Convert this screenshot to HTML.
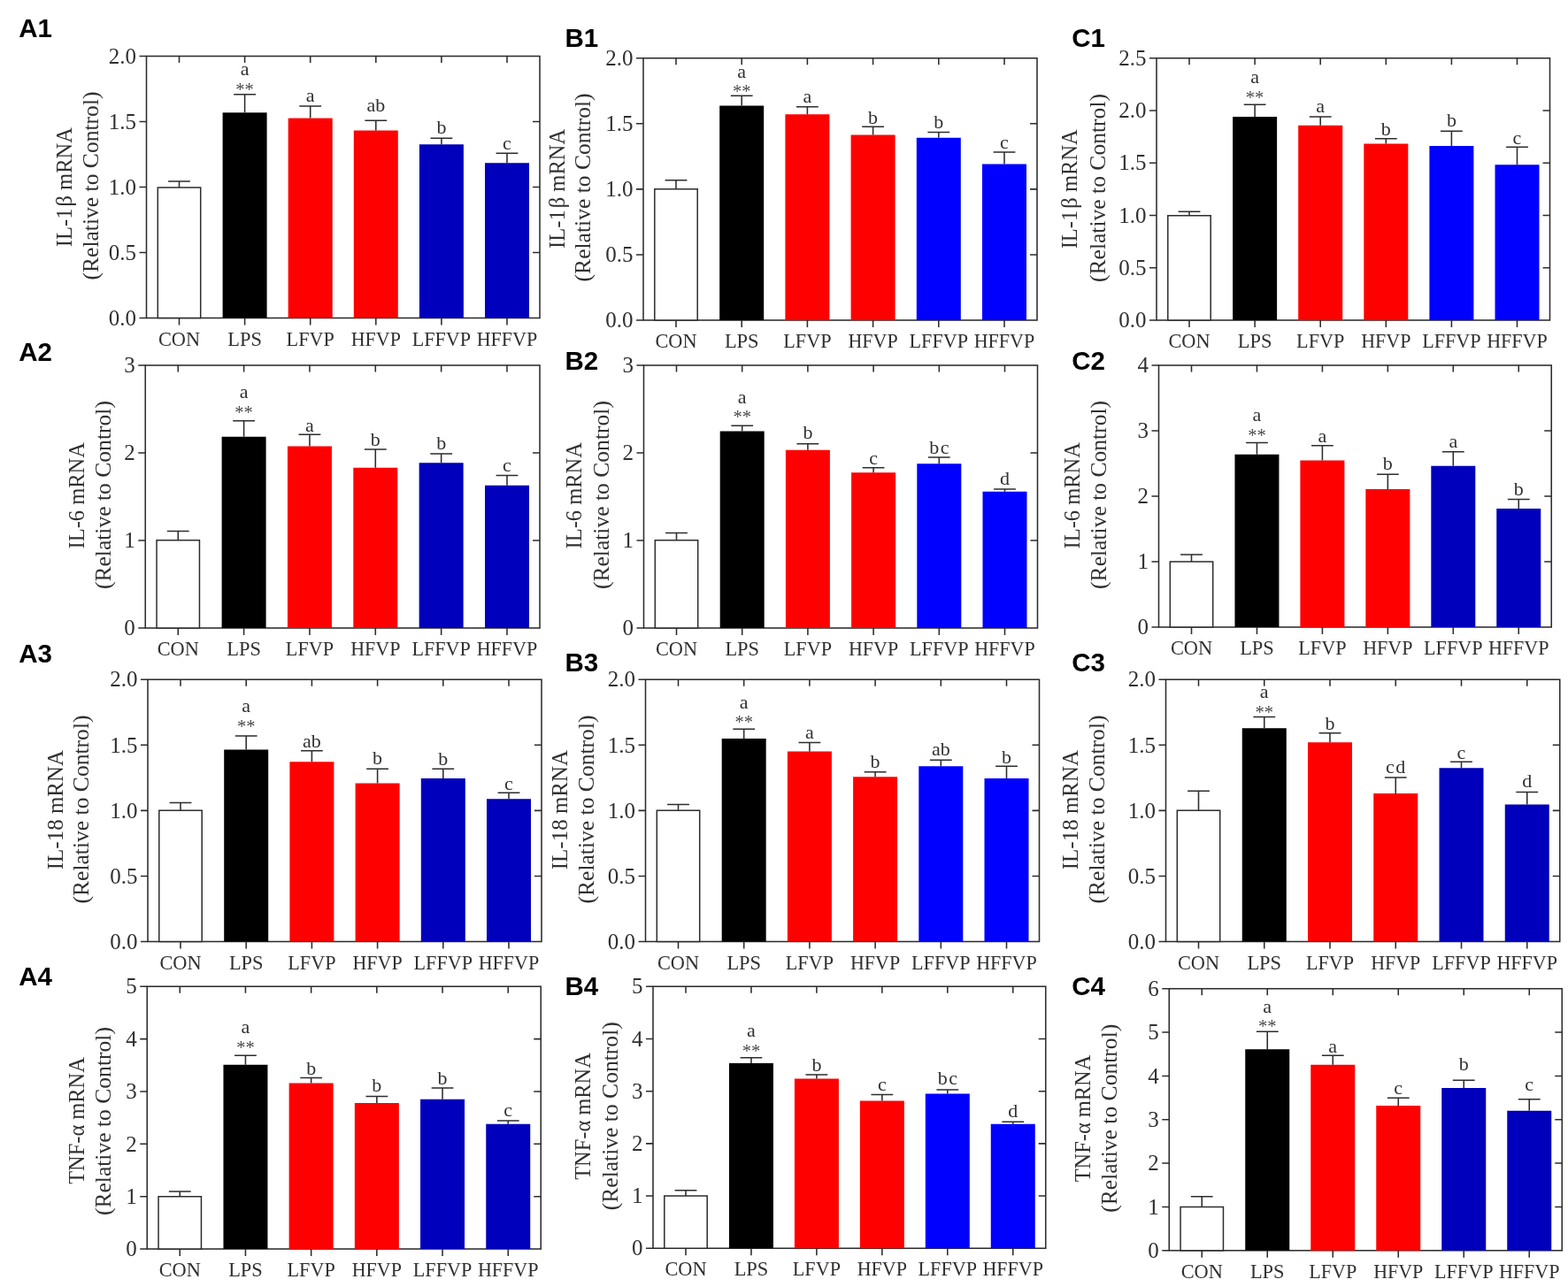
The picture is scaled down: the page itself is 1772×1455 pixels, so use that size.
<!DOCTYPE html>
<html><head><meta charset="utf-8"><title>Figure</title><style>
html,body{margin:0;padding:0;background:#fff;}
svg{display:block;}
text{font-family:"Liberation Serif","Times New Roman",serif;fill:#303030;}
.pl{font-family:"Liberation Sans",Arial,sans-serif;font-weight:700;font-size:29.5px;fill:#000;}
.ax{fill:none;stroke:#2c2c2c;stroke-width:1.55;}
.ln{fill:none;stroke:#2c2c2c;stroke-width:1.55;}
.cb{stroke:#2c2c2c;stroke-width:1.5;}
.tk{font-size:25px;text-anchor:end;}
.xl{font-size:24px;text-anchor:middle;}
.lt{font-size:22px;text-anchor:middle;}
.st{font-size:20.5px;text-anchor:middle;fill:#4a4a4a;}
.yl{font-size:25px;text-anchor:middle;}
</style></head>
<body><svg width="1772" height="1455" viewBox="0 0 1772 1455">
<rect width="1772" height="1455" fill="#fff"/>
<g><text class="pl" x="21.2" y="42.3">A1</text><rect x="165.5" y="63.5" width="444.5" height="296" class="ax"/><text class="tk" x="154" y="367.7">0.0</text><text class="tk" x="154" y="293.7">0.5</text><text class="tk" x="154" y="219.7">1.0</text><text class="tk" x="154" y="145.7">1.5</text><text class="tk" x="154" y="71.7">2.0</text><rect x="178.3" y="212" width="48.4" height="147.5" fill="#fff" class="cb"/><text class="xl" x="202.5" y="390.7" textLength="47.2" lengthAdjust="spacingAndGlyphs">CON</text><rect x="251.6" y="127.3" width="50" height="232.2" fill="#000"/><text class="lt" x="276.6" y="84.9">a</text><text class="st" x="276.6" y="108.1">**</text><text class="xl" x="276.6" y="390.7" textLength="38.6" lengthAdjust="spacingAndGlyphs">LPS</text><rect x="325.7" y="133.6" width="50" height="225.9" fill="#ff0000"/><text class="lt" x="350.7" y="115.3">a</text><text class="xl" x="350.7" y="390.7" textLength="54.2" lengthAdjust="spacingAndGlyphs">LFVP</text><rect x="399.8" y="147.5" width="50" height="212" fill="#ff0000"/><text class="lt" x="424.8" y="126">ab</text><text class="xl" x="424.8" y="390.7" textLength="56.2" lengthAdjust="spacingAndGlyphs">HFVP</text><rect x="473.9" y="163.25" width="50" height="196.25" fill="#0000bc"/><text class="lt" x="498.9" y="151.25">b</text><text class="xl" x="498.9" y="390.7" textLength="66.5" lengthAdjust="spacingAndGlyphs">LFFVP</text><rect x="548" y="184.25" width="50" height="175.25" fill="#0000bc"/><text class="lt" x="573" y="168.75">c</text><text class="xl" x="573" y="390.7" textLength="68.7" lengthAdjust="spacingAndGlyphs">HFFVP</text><path class="ln" d="M157.5 359.5H165.5M157.5 285.5H165.5M602 285.5H610M157.5 211.5H165.5M602 211.5H610M157.5 137.5H165.5M602 137.5H610M157.5 63.5H165.5M202.5 359.5V367.5M202.5 63.5V71M276.6 359.5V367.5M276.6 63.5V71M350.7 359.5V367.5M350.7 63.5V71M424.8 359.5V367.5M424.8 63.5V71M498.9 359.5V367.5M498.9 63.5V71M573 359.5V367.5M573 63.5V71M202.5 212V204.9M190.1 204.9H214.9M276.6 127.3V106.7M264.2 106.7H289M350.7 133.6V120M338.3 120H363.1M424.8 147.5V136.25M412.4 136.25H437.2M498.9 163.25V156.25M486.5 156.25H511.3M573 184.25V173.25M560.6 173.25H585.4"/><text class="yl" transform="translate(81,211.6) rotate(-90)" textLength="135.2" lengthAdjust="spacingAndGlyphs">IL-1<tspan dx="2">β</tspan> mRNA</text><text class="yl" transform="translate(111.1,210) rotate(-90)" textLength="213" lengthAdjust="spacingAndGlyphs">(Relative to Control)</text></g>
<g><text class="pl" x="638.4" y="52.9">B1</text><rect x="727" y="65.75" width="445" height="296.25" class="ax"/><text class="tk" x="715.5" y="370.2">0.0</text><text class="tk" x="715.5" y="296.14">0.5</text><text class="tk" x="715.5" y="222.07">1.0</text><text class="tk" x="715.5" y="148.01">1.5</text><text class="tk" x="715.5" y="73.95">2.0</text><rect x="739.8" y="213.75" width="48.4" height="148.25" fill="#fff" class="cb"/><text class="xl" x="764" y="393.2" textLength="47.2" lengthAdjust="spacingAndGlyphs">CON</text><rect x="813.2" y="119.5" width="50" height="242.5" fill="#000"/><text class="lt" x="838.2" y="87.5">a</text><text class="st" x="838.2" y="109.75">**</text><text class="xl" x="838.2" y="393.2" textLength="38.6" lengthAdjust="spacingAndGlyphs">LPS</text><rect x="887.4" y="129.25" width="50" height="232.75" fill="#ff0000"/><text class="lt" x="912.4" y="115.75">a</text><text class="xl" x="912.4" y="393.2" textLength="54.2" lengthAdjust="spacingAndGlyphs">LFVP</text><rect x="961.6" y="152.5" width="50" height="209.5" fill="#ff0000"/><text class="lt" x="986.6" y="140">b</text><text class="xl" x="986.6" y="393.2" textLength="56.2" lengthAdjust="spacingAndGlyphs">HFVP</text><rect x="1035.8" y="155.75" width="50" height="206.25" fill="#0000ff"/><text class="lt" x="1060.8" y="145">b</text><text class="xl" x="1060.8" y="393.2" textLength="66.5" lengthAdjust="spacingAndGlyphs">LFFVP</text><rect x="1110" y="185.5" width="50" height="176.5" fill="#0000ff"/><text class="lt" x="1135" y="167.5">c</text><text class="xl" x="1135" y="393.2" textLength="68.7" lengthAdjust="spacingAndGlyphs">HFFVP</text><path class="ln" d="M719 362H727M719 287.94H727M1164 287.94H1172M719 213.88H727M1164 213.88H1172M719 139.81H727M1164 139.81H1172M719 65.75H727M764 362V370M764 65.75V73.25M838.2 362V370M838.2 65.75V73.25M912.4 362V370M912.4 65.75V73.25M986.6 362V370M986.6 65.75V73.25M1060.8 362V370M1060.8 65.75V73.25M1135 362V370M1135 65.75V73.25M764 213.75V203.75M751.6 203.75H776.4M838.2 119.5V108.25M825.8 108.25H850.6M912.4 129.25V120.75M900 120.75H924.8M986.6 152.5V143.25M974.2 143.25H999M1060.8 155.75V149.5M1048.4 149.5H1073.2M1135 185.5V172M1122.6 172H1147.4"/><text class="yl" transform="translate(637.6,213.3) rotate(-90)" textLength="135.2" lengthAdjust="spacingAndGlyphs">IL-1<tspan dx="2">β</tspan> mRNA</text><text class="yl" transform="translate(666.5,211.9) rotate(-90)" textLength="213" lengthAdjust="spacingAndGlyphs">(Relative to Control)</text></g>
<g><text class="pl" x="1211.2" y="52.9">C1</text><rect x="1307" y="65.75" width="444.5" height="296.25" class="ax"/><text class="tk" x="1295.5" y="370.2">0.0</text><text class="tk" x="1295.5" y="310.95">0.5</text><text class="tk" x="1295.5" y="251.7">1.0</text><text class="tk" x="1295.5" y="192.45">1.5</text><text class="tk" x="1295.5" y="133.2">2.0</text><text class="tk" x="1295.5" y="73.95">2.5</text><rect x="1319.8" y="243.75" width="48.4" height="118.25" fill="#fff" class="cb"/><text class="xl" x="1344" y="393.2" textLength="47.2" lengthAdjust="spacingAndGlyphs">CON</text><rect x="1393.1" y="132" width="50" height="230" fill="#000"/><text class="lt" x="1418.1" y="93.75">a</text><text class="st" x="1418.1" y="116.75">**</text><text class="xl" x="1418.1" y="393.2" textLength="38.6" lengthAdjust="spacingAndGlyphs">LPS</text><rect x="1467.2" y="141.75" width="50" height="220.25" fill="#ff0000"/><text class="lt" x="1492.2" y="127">a</text><text class="xl" x="1492.2" y="393.2" textLength="54.2" lengthAdjust="spacingAndGlyphs">LFVP</text><rect x="1541.3" y="162.5" width="50" height="199.5" fill="#ff0000"/><text class="lt" x="1566.3" y="152.5">b</text><text class="xl" x="1566.3" y="393.2" textLength="56.2" lengthAdjust="spacingAndGlyphs">HFVP</text><rect x="1615.4" y="165" width="50" height="197" fill="#0000ff"/><text class="lt" x="1640.4" y="143">b</text><text class="xl" x="1640.4" y="393.2" textLength="66.5" lengthAdjust="spacingAndGlyphs">LFFVP</text><rect x="1689.5" y="186.25" width="50" height="175.75" fill="#0000ff"/><text class="lt" x="1714.5" y="162.5">c</text><text class="xl" x="1714.5" y="393.2" textLength="68.7" lengthAdjust="spacingAndGlyphs">HFFVP</text><path class="ln" d="M1299 362H1307M1299 302.75H1307M1743.5 302.75H1751.5M1299 243.5H1307M1743.5 243.5H1751.5M1299 184.25H1307M1743.5 184.25H1751.5M1299 125H1307M1743.5 125H1751.5M1299 65.75H1307M1344 362V370M1344 65.75V73.25M1418.1 362V370M1418.1 65.75V73.25M1492.2 362V370M1492.2 65.75V73.25M1566.3 362V370M1566.3 65.75V73.25M1640.4 362V370M1640.4 65.75V73.25M1714.5 362V370M1714.5 65.75V73.25M1344 243.75V239.25M1331.6 239.25H1356.4M1418.1 132V118.25M1405.7 118.25H1430.5M1492.2 141.75V132M1479.8 132H1504.6M1566.3 162.5V156.75M1553.9 156.75H1578.7M1640.4 165V148.25M1628 148.25H1652.8M1714.5 186.25V166.25M1702.1 166.25H1726.9"/><text class="yl" transform="translate(1217.45,213.75) rotate(-90)" textLength="135.2" lengthAdjust="spacingAndGlyphs">IL-1<tspan dx="2">β</tspan> mRNA</text><text class="yl" transform="translate(1248.85,212.5) rotate(-90)" textLength="213" lengthAdjust="spacingAndGlyphs">(Relative to Control)</text></g>
<g><text class="pl" x="21.2" y="407.9">A2</text><rect x="164.25" y="413" width="445.75" height="297" class="ax"/><text class="tk" x="152.75" y="718.2">0</text><text class="tk" x="152.75" y="619.2">1</text><text class="tk" x="152.75" y="520.2">2</text><text class="tk" x="152.75" y="421.2">3</text><rect x="177.05" y="610.75" width="48.4" height="99.25" fill="#fff" class="cb"/><text class="xl" x="201.25" y="741.2" textLength="47.2" lengthAdjust="spacingAndGlyphs">CON</text><rect x="250.6" y="493.75" width="50" height="216.25" fill="#000"/><text class="lt" x="275.6" y="449.5">a</text><text class="st" x="275.6" y="473">**</text><text class="xl" x="275.6" y="741.2" textLength="38.6" lengthAdjust="spacingAndGlyphs">LPS</text><rect x="324.95" y="504.5" width="50" height="205.5" fill="#ff0000"/><text class="lt" x="349.95" y="487.5">a</text><text class="xl" x="349.95" y="741.2" textLength="54.2" lengthAdjust="spacingAndGlyphs">LFVP</text><rect x="399.3" y="528.75" width="50" height="181.25" fill="#ff0000"/><text class="lt" x="424.3" y="503.75">b</text><text class="xl" x="424.3" y="741.2" textLength="56.2" lengthAdjust="spacingAndGlyphs">HFVP</text><rect x="473.65" y="523.25" width="50" height="186.75" fill="#0000bc"/><text class="lt" x="498.65" y="508">b</text><text class="xl" x="498.65" y="741.2" textLength="66.5" lengthAdjust="spacingAndGlyphs">LFFVP</text><rect x="548" y="548.75" width="50" height="161.25" fill="#0000bc"/><text class="lt" x="573" y="533">c</text><text class="xl" x="573" y="741.2" textLength="68.7" lengthAdjust="spacingAndGlyphs">HFFVP</text><path class="ln" d="M156.25 710H164.25M156.25 611H164.25M602 611H610M156.25 512H164.25M602 512H610M156.25 413H164.25M201.25 710V718M201.25 413V420.5M275.6 710V718M275.6 413V420.5M349.95 710V718M349.95 413V420.5M424.3 710V718M424.3 413V420.5M498.65 710V718M498.65 413V420.5M573 710V718M573 413V420.5M201.25 610.75V600.5M188.85 600.5H213.65M275.6 493.75V475.75M263.2 475.75H288M349.95 504.5V491.25M337.55 491.25H362.35M424.3 528.75V508M411.9 508H436.7M498.65 523.25V513M486.25 513H511.05M573 548.75V537.5M560.6 537.5H585.4"/><text class="yl" transform="translate(94.95,560.25) rotate(-90)" textLength="120.4" lengthAdjust="spacingAndGlyphs">IL-6 mRNA</text><text class="yl" transform="translate(125.1,559.6) rotate(-90)" textLength="213" lengthAdjust="spacingAndGlyphs">(Relative to Control)</text></g>
<g><text class="pl" x="638.4" y="418.2">B2</text><rect x="727.5" y="413" width="445" height="297" class="ax"/><text class="tk" x="716" y="718.2">0</text><text class="tk" x="716" y="619.2">1</text><text class="tk" x="716" y="520.2">2</text><text class="tk" x="716" y="421.2">3</text><rect x="740.3" y="610.75" width="48.4" height="99.25" fill="#fff" class="cb"/><text class="xl" x="764.5" y="741.2" textLength="47.2" lengthAdjust="spacingAndGlyphs">CON</text><rect x="813.7" y="487.5" width="50" height="222.5" fill="#000"/><text class="lt" x="838.7" y="455.5">a</text><text class="st" x="838.7" y="478">**</text><text class="xl" x="838.7" y="741.2" textLength="38.6" lengthAdjust="spacingAndGlyphs">LPS</text><rect x="887.9" y="508.75" width="50" height="201.25" fill="#ff0000"/><text class="lt" x="912.9" y="496.25">b</text><text class="xl" x="912.9" y="741.2" textLength="54.2" lengthAdjust="spacingAndGlyphs">LFVP</text><rect x="962.1" y="534.25" width="50" height="175.75" fill="#ff0000"/><text class="lt" x="987.1" y="525">c</text><text class="xl" x="987.1" y="741.2" textLength="56.2" lengthAdjust="spacingAndGlyphs">HFVP</text><rect x="1036.3" y="524.25" width="50" height="185.75" fill="#0000ff"/><text class="lt" x="1062.05" y="512.5" letter-spacing="1.5">bc</text><text class="xl" x="1061.3" y="741.2" textLength="66.5" lengthAdjust="spacingAndGlyphs">LFFVP</text><rect x="1110.5" y="555.75" width="50" height="154.25" fill="#0000ff"/><text class="lt" x="1135.5" y="548">d</text><text class="xl" x="1135.5" y="741.2" textLength="68.7" lengthAdjust="spacingAndGlyphs">HFFVP</text><path class="ln" d="M719.5 710H727.5M719.5 611H727.5M1164.5 611H1172.5M719.5 512H727.5M1164.5 512H1172.5M719.5 413H727.5M764.5 710V718M764.5 413V420.5M838.7 710V718M838.7 413V420.5M912.9 710V718M912.9 413V420.5M987.1 710V718M987.1 413V420.5M1061.3 710V718M1061.3 413V420.5M1135.5 710V718M1135.5 413V420.5M764.5 610.75V602.5M752.1 602.5H776.9M838.7 487.5V481.25M826.3 481.25H851.1M912.9 508.75V501.75M900.5 501.75H925.3M987.1 534.25V528.75M974.7 528.75H999.5M1061.3 524.25V517M1048.9 517H1073.7M1135.5 555.75V553M1123.1 553H1147.9"/><text class="yl" transform="translate(657.45,560.25) rotate(-90)" textLength="120.4" lengthAdjust="spacingAndGlyphs">IL-6 mRNA</text><text class="yl" transform="translate(687.6,559.6) rotate(-90)" textLength="213" lengthAdjust="spacingAndGlyphs">(Relative to Control)</text></g>
<g><text class="pl" x="1211.2" y="418.2">C2</text><rect x="1309.5" y="413" width="443.75" height="296" class="ax"/><text class="tk" x="1298" y="717.2">0</text><text class="tk" x="1298" y="643.2">1</text><text class="tk" x="1298" y="569.2">2</text><text class="tk" x="1298" y="495.2">3</text><text class="tk" x="1298" y="421.2">4</text><rect x="1322.3" y="635" width="48.4" height="74" fill="#fff" class="cb"/><text class="xl" x="1346.5" y="740.2" textLength="47.2" lengthAdjust="spacingAndGlyphs">CON</text><rect x="1395.45" y="513.75" width="50" height="195.25" fill="#000"/><text class="lt" x="1420.45" y="476.25">a</text><text class="st" x="1420.45" y="498.5">**</text><text class="xl" x="1420.45" y="740.2" textLength="38.6" lengthAdjust="spacingAndGlyphs">LPS</text><rect x="1469.4" y="520.5" width="50" height="188.5" fill="#ff0000"/><text class="lt" x="1494.4" y="499.5">a</text><text class="xl" x="1494.4" y="740.2" textLength="54.2" lengthAdjust="spacingAndGlyphs">LFVP</text><rect x="1543.35" y="553" width="50" height="156" fill="#ff0000"/><text class="lt" x="1568.35" y="531.25">b</text><text class="xl" x="1568.35" y="740.2" textLength="56.2" lengthAdjust="spacingAndGlyphs">HFVP</text><rect x="1617.3" y="526.75" width="50" height="182.25" fill="#0000bc"/><text class="lt" x="1642.3" y="506.25">a</text><text class="xl" x="1642.3" y="740.2" textLength="66.5" lengthAdjust="spacingAndGlyphs">LFFVP</text><rect x="1691.25" y="575" width="50" height="134" fill="#0000bc"/><text class="lt" x="1716.25" y="560">b</text><text class="xl" x="1716.25" y="740.2" textLength="68.7" lengthAdjust="spacingAndGlyphs">HFFVP</text><path class="ln" d="M1301.5 709H1309.5M1301.5 635H1309.5M1745.25 635H1753.25M1301.5 561H1309.5M1745.25 561H1753.25M1301.5 487H1309.5M1745.25 487H1753.25M1301.5 413H1309.5M1346.5 709V717M1346.5 413V420.5M1420.45 709V717M1420.45 413V420.5M1494.4 709V717M1494.4 413V420.5M1568.35 709V717M1568.35 413V420.5M1642.3 709V717M1642.3 413V420.5M1716.25 709V717M1716.25 413V420.5M1346.5 635V627M1334.1 627H1358.9M1420.45 513.75V500.5M1408.05 500.5H1432.85M1494.4 520.5V503.75M1482 503.75H1506.8M1568.35 553V536.25M1555.95 536.25H1580.75M1642.3 526.75V510.75M1629.9 510.75H1654.7M1716.25 575V564.5M1703.85 564.5H1728.65"/><text class="yl" transform="translate(1219.95,560.25) rotate(-90)" textLength="120.4" lengthAdjust="spacingAndGlyphs">IL-6 mRNA</text><text class="yl" transform="translate(1249.6,559.4) rotate(-90)" textLength="213" lengthAdjust="spacingAndGlyphs">(Relative to Control)</text></g>
<g><text class="pl" x="21.2" y="748.6">A3</text><rect x="167" y="768.25" width="445" height="296.25" class="ax"/><text class="tk" x="155.5" y="1072.7">0.0</text><text class="tk" x="155.5" y="998.64">0.5</text><text class="tk" x="155.5" y="924.58">1.0</text><text class="tk" x="155.5" y="850.51">1.5</text><text class="tk" x="155.5" y="776.45">2.0</text><rect x="179.8" y="916.25" width="48.4" height="148.25" fill="#fff" class="cb"/><text class="xl" x="204" y="1095.7" textLength="47.2" lengthAdjust="spacingAndGlyphs">CON</text><rect x="253.2" y="847.5" width="50" height="217" fill="#000"/><text class="lt" x="278.2" y="805">a</text><text class="st" x="278.2" y="827.5">**</text><text class="xl" x="278.2" y="1095.7" textLength="38.6" lengthAdjust="spacingAndGlyphs">LPS</text><rect x="327.4" y="861.25" width="50" height="203.25" fill="#ff0000"/><text class="lt" x="352.4" y="845">ab</text><text class="xl" x="352.4" y="1095.7" textLength="54.2" lengthAdjust="spacingAndGlyphs">LFVP</text><rect x="401.6" y="885.5" width="50" height="179" fill="#ff0000"/><text class="lt" x="426.6" y="863.75">b</text><text class="xl" x="426.6" y="1095.7" textLength="56.2" lengthAdjust="spacingAndGlyphs">HFVP</text><rect x="475.8" y="880" width="50" height="184.5" fill="#0000bc"/><text class="lt" x="500.8" y="865">b</text><text class="xl" x="500.8" y="1095.7" textLength="66.5" lengthAdjust="spacingAndGlyphs">LFFVP</text><rect x="550" y="903.25" width="50" height="161.25" fill="#0000bc"/><text class="lt" x="575" y="892.5">c</text><text class="xl" x="575" y="1095.7" textLength="68.7" lengthAdjust="spacingAndGlyphs">HFFVP</text><path class="ln" d="M159 1064.5H167M159 990.44H167M604 990.44H612M159 916.38H167M604 916.38H612M159 842.31H167M604 842.31H612M159 768.25H167M204 1064.5V1072.5M204 768.25V775.75M278.2 1064.5V1072.5M278.2 768.25V775.75M352.4 1064.5V1072.5M352.4 768.25V775.75M426.6 1064.5V1072.5M426.6 768.25V775.75M500.8 1064.5V1072.5M500.8 768.25V775.75M575 1064.5V1072.5M575 768.25V775.75M204 916.25V907.5M191.6 907.5H216.4M278.2 847.5V832M265.8 832H290.6M352.4 861.25V848.75M340 848.75H364.8M426.6 885.5V869.25M414.2 869.25H439M500.8 880V869.25M488.4 869.25H513.2M575 903.25V896.25M562.6 896.25H587.4"/><text class="yl" transform="translate(70.7,915.6) rotate(-90)" textLength="135.2" lengthAdjust="spacingAndGlyphs">IL-18 mRNA</text><text class="yl" transform="translate(100.1,915) rotate(-90)" textLength="213" lengthAdjust="spacingAndGlyphs">(Relative to Control)</text></g>
<g><text class="pl" x="638.4" y="758.9">B3</text><rect x="729.5" y="768.25" width="445" height="296.25" class="ax"/><text class="tk" x="718" y="1072.7">0.0</text><text class="tk" x="718" y="998.64">0.5</text><text class="tk" x="718" y="924.58">1.0</text><text class="tk" x="718" y="850.51">1.5</text><text class="tk" x="718" y="776.45">2.0</text><rect x="742.3" y="916.25" width="48.4" height="148.25" fill="#fff" class="cb"/><text class="xl" x="766.5" y="1095.7" textLength="47.2" lengthAdjust="spacingAndGlyphs">CON</text><rect x="815.7" y="835" width="50" height="229.5" fill="#000"/><text class="lt" x="840.7" y="800.5">a</text><text class="st" x="840.7" y="823">**</text><text class="xl" x="840.7" y="1095.7" textLength="38.6" lengthAdjust="spacingAndGlyphs">LPS</text><rect x="889.9" y="849.5" width="50" height="215" fill="#ff0000"/><text class="lt" x="914.9" y="835">a</text><text class="xl" x="914.9" y="1095.7" textLength="54.2" lengthAdjust="spacingAndGlyphs">LFVP</text><rect x="964.1" y="878.25" width="50" height="186.25" fill="#ff0000"/><text class="lt" x="989.1" y="867.5">b</text><text class="xl" x="989.1" y="1095.7" textLength="56.2" lengthAdjust="spacingAndGlyphs">HFVP</text><rect x="1038.3" y="866.25" width="50" height="198.25" fill="#0000ff"/><text class="lt" x="1063.3" y="853.75">ab</text><text class="xl" x="1063.3" y="1095.7" textLength="66.5" lengthAdjust="spacingAndGlyphs">LFFVP</text><rect x="1112.5" y="880" width="50" height="184.5" fill="#0000ff"/><text class="lt" x="1137.5" y="863">b</text><text class="xl" x="1137.5" y="1095.7" textLength="68.7" lengthAdjust="spacingAndGlyphs">HFFVP</text><path class="ln" d="M721.5 1064.5H729.5M721.5 990.44H729.5M1166.5 990.44H1174.5M721.5 916.38H729.5M1166.5 916.38H1174.5M721.5 842.31H729.5M1166.5 842.31H1174.5M721.5 768.25H729.5M766.5 1064.5V1072.5M766.5 768.25V775.75M840.7 1064.5V1072.5M840.7 768.25V775.75M914.9 1064.5V1072.5M914.9 768.25V775.75M989.1 1064.5V1072.5M989.1 768.25V775.75M1063.3 1064.5V1072.5M1063.3 768.25V775.75M1137.5 1064.5V1072.5M1137.5 768.25V775.75M766.5 916.25V909.5M754.1 909.5H778.9M840.7 835V824.25M828.3 824.25H853.1M914.9 849.5V839.5M902.5 839.5H927.3M989.1 878.25V872.75M976.7 872.75H1001.5M1063.3 866.25V859.25M1050.9 859.25H1075.7M1137.5 880V866.25M1125.1 866.25H1149.9"/><text class="yl" transform="translate(641.2,915.6) rotate(-90)" textLength="135.2" lengthAdjust="spacingAndGlyphs">IL-18 mRNA</text><text class="yl" transform="translate(671.35,915) rotate(-90)" textLength="213" lengthAdjust="spacingAndGlyphs">(Relative to Control)</text></g>
<g><text class="pl" x="1211.2" y="759.2">C3</text><rect x="1317.5" y="768.25" width="445.25" height="296.25" class="ax"/><text class="tk" x="1306" y="1072.7">0.0</text><text class="tk" x="1306" y="998.64">0.5</text><text class="tk" x="1306" y="924.58">1.0</text><text class="tk" x="1306" y="850.51">1.5</text><text class="tk" x="1306" y="776.45">2.0</text><rect x="1330.3" y="916.25" width="48.4" height="148.25" fill="#fff" class="cb"/><text class="xl" x="1354.5" y="1095.7" textLength="47.2" lengthAdjust="spacingAndGlyphs">CON</text><rect x="1403.75" y="823.25" width="50" height="241.25" fill="#000"/><text class="lt" x="1428.75" y="788.75">a</text><text class="st" x="1428.75" y="811.75">**</text><text class="xl" x="1428.75" y="1095.7" textLength="38.6" lengthAdjust="spacingAndGlyphs">LPS</text><rect x="1478" y="839.25" width="50" height="225.25" fill="#ff0000"/><text class="lt" x="1503" y="824.5">b</text><text class="xl" x="1503" y="1095.7" textLength="54.2" lengthAdjust="spacingAndGlyphs">LFVP</text><rect x="1552.25" y="897" width="50" height="167.5" fill="#ff0000"/><text class="lt" x="1578" y="873.75" letter-spacing="1.5">cd</text><text class="xl" x="1577.25" y="1095.7" textLength="56.2" lengthAdjust="spacingAndGlyphs">HFVP</text><rect x="1626.5" y="868.25" width="50" height="196.25" fill="#0000bc"/><text class="lt" x="1651.5" y="857.5">c</text><text class="xl" x="1651.5" y="1095.7" textLength="66.5" lengthAdjust="spacingAndGlyphs">LFFVP</text><rect x="1700.75" y="909.5" width="50" height="155" fill="#0000bc"/><text class="lt" x="1725.75" y="890">d</text><text class="xl" x="1725.75" y="1095.7" textLength="68.7" lengthAdjust="spacingAndGlyphs">HFFVP</text><path class="ln" d="M1309.5 1064.5H1317.5M1309.5 990.44H1317.5M1754.75 990.44H1762.75M1309.5 916.38H1317.5M1754.75 916.38H1762.75M1309.5 842.31H1317.5M1754.75 842.31H1762.75M1309.5 768.25H1317.5M1354.5 1064.5V1072.5M1354.5 768.25V775.75M1428.75 1064.5V1072.5M1428.75 768.25V775.75M1503 1064.5V1072.5M1503 768.25V775.75M1577.25 1064.5V1072.5M1577.25 768.25V775.75M1651.5 1064.5V1072.5M1651.5 768.25V775.75M1725.75 1064.5V1072.5M1725.75 768.25V775.75M1354.5 916.25V894.25M1342.1 894.25H1366.9M1428.75 823.25V810.5M1416.35 810.5H1441.15M1503 839.25V828.75M1490.6 828.75H1515.4M1577.25 897V879M1564.85 879H1589.65M1651.5 868.25V861.25M1639.1 861.25H1663.9M1725.75 909.5V895.5M1713.35 895.5H1738.15"/><text class="yl" transform="translate(1218.2,915.6) rotate(-90)" textLength="135.2" lengthAdjust="spacingAndGlyphs">IL-18 mRNA</text><text class="yl" transform="translate(1247.6,915) rotate(-90)" textLength="213" lengthAdjust="spacingAndGlyphs">(Relative to Control)</text></g>
<g><text class="pl" x="21.2" y="1113.9">A4</text><rect x="166.25" y="1115.25" width="445" height="296.75" class="ax"/><text class="tk" x="154.75" y="1420.2">0</text><text class="tk" x="154.75" y="1360.85">1</text><text class="tk" x="154.75" y="1301.5">2</text><text class="tk" x="154.75" y="1242.15">3</text><text class="tk" x="154.75" y="1182.8">4</text><text class="tk" x="154.75" y="1123.45">5</text><rect x="179.05" y="1352.75" width="48.4" height="59.25" fill="#fff" class="cb"/><text class="xl" x="203.25" y="1443.2" textLength="47.2" lengthAdjust="spacingAndGlyphs">CON</text><rect x="252.45" y="1203.75" width="50" height="208.25" fill="#000"/><text class="lt" x="277.45" y="1168.25">a</text><text class="st" x="277.45" y="1191.25">**</text><text class="xl" x="277.45" y="1443.2" textLength="38.6" lengthAdjust="spacingAndGlyphs">LPS</text><rect x="326.65" y="1224.5" width="50" height="187.5" fill="#ff0000"/><text class="lt" x="351.65" y="1214.5">b</text><text class="xl" x="351.65" y="1443.2" textLength="54.2" lengthAdjust="spacingAndGlyphs">LFVP</text><rect x="400.85" y="1247" width="50" height="165" fill="#ff0000"/><text class="lt" x="425.85" y="1234">b</text><text class="xl" x="425.85" y="1443.2" textLength="56.2" lengthAdjust="spacingAndGlyphs">HFVP</text><rect x="475.05" y="1242.75" width="50" height="169.25" fill="#0000bc"/><text class="lt" x="500.05" y="1225.75">b</text><text class="xl" x="500.05" y="1443.2" textLength="66.5" lengthAdjust="spacingAndGlyphs">LFFVP</text><rect x="549.25" y="1270.75" width="50" height="141.25" fill="#0000bc"/><text class="lt" x="574.25" y="1262">c</text><text class="xl" x="574.25" y="1443.2" textLength="68.7" lengthAdjust="spacingAndGlyphs">HFFVP</text><path class="ln" d="M158.25 1412H166.25M158.25 1352.65H166.25M603.25 1352.65H611.25M158.25 1293.3H166.25M603.25 1293.3H611.25M158.25 1233.95H166.25M603.25 1233.95H611.25M158.25 1174.6H166.25M603.25 1174.6H611.25M158.25 1115.25H166.25M203.25 1412V1420M203.25 1115.25V1122.75M277.45 1412V1420M277.45 1115.25V1122.75M351.65 1412V1420M351.65 1115.25V1122.75M425.85 1412V1420M425.85 1115.25V1122.75M500.05 1412V1420M500.05 1115.25V1122.75M574.25 1412V1420M574.25 1115.25V1122.75M203.25 1352.75V1347M190.85 1347H215.65M277.45 1203.75V1193.25M265.05 1193.25H289.85M351.65 1224.5V1218.5M339.25 1218.5H364.05M425.85 1247V1239.5M413.45 1239.5H438.25M500.05 1242.75V1230M487.65 1230H512.45M574.25 1270.75V1267M561.85 1267H586.65"/><text class="yl" transform="translate(94.95,1267) rotate(-90)" textLength="143.6" lengthAdjust="spacingAndGlyphs">TNF-α mRNA</text><text class="yl" transform="translate(125.1,1267.6) rotate(-90)" textLength="213" lengthAdjust="spacingAndGlyphs">(Relative to Control)</text></g>
<g><text class="pl" x="638.4" y="1124.5">B4</text><rect x="738" y="1115.25" width="443.75" height="296" class="ax"/><text class="tk" x="726.5" y="1419.45">0</text><text class="tk" x="726.5" y="1360.25">1</text><text class="tk" x="726.5" y="1301.05">2</text><text class="tk" x="726.5" y="1241.85">3</text><text class="tk" x="726.5" y="1182.65">4</text><text class="tk" x="726.5" y="1123.45">5</text><rect x="750.8" y="1352" width="48.4" height="59.25" fill="#fff" class="cb"/><text class="xl" x="775" y="1442.45" textLength="47.2" lengthAdjust="spacingAndGlyphs">CON</text><rect x="823.95" y="1202" width="50" height="209.25" fill="#000"/><text class="lt" x="848.95" y="1172">a</text><text class="st" x="848.95" y="1195">**</text><text class="xl" x="848.95" y="1442.45" textLength="38.6" lengthAdjust="spacingAndGlyphs">LPS</text><rect x="897.9" y="1219.5" width="50" height="191.75" fill="#ff0000"/><text class="lt" x="922.9" y="1210.75">b</text><text class="xl" x="922.9" y="1442.45" textLength="54.2" lengthAdjust="spacingAndGlyphs">LFVP</text><rect x="971.85" y="1244.5" width="50" height="166.75" fill="#ff0000"/><text class="lt" x="996.85" y="1233.25">c</text><text class="xl" x="996.85" y="1442.45" textLength="56.2" lengthAdjust="spacingAndGlyphs">HFVP</text><rect x="1045.8" y="1236.5" width="50" height="174.75" fill="#0000ff"/><text class="lt" x="1071.55" y="1225.75" letter-spacing="1.5">bc</text><text class="xl" x="1070.8" y="1442.45" textLength="66.5" lengthAdjust="spacingAndGlyphs">LFFVP</text><rect x="1119.75" y="1270.75" width="50" height="140.5" fill="#0000ff"/><text class="lt" x="1144.75" y="1263.25">d</text><text class="xl" x="1144.75" y="1442.45" textLength="68.7" lengthAdjust="spacingAndGlyphs">HFFVP</text><path class="ln" d="M730 1411.25H738M730 1352.05H738M1173.75 1352.05H1181.75M730 1292.85H738M1173.75 1292.85H1181.75M730 1233.65H738M1173.75 1233.65H1181.75M730 1174.45H738M1173.75 1174.45H1181.75M730 1115.25H738M775 1411.25V1419.25M775 1115.25V1122.75M848.95 1411.25V1419.25M848.95 1115.25V1122.75M922.9 1411.25V1419.25M922.9 1115.25V1122.75M996.85 1411.25V1419.25M996.85 1115.25V1122.75M1070.8 1411.25V1419.25M1070.8 1115.25V1122.75M1144.75 1411.25V1419.25M1144.75 1115.25V1122.75M775 1352V1345.75M762.6 1345.75H787.4M848.95 1202V1195.75M836.55 1195.75H861.35M922.9 1219.5V1215M910.5 1215H935.3M996.85 1244.5V1237.5M984.45 1237.5H1009.25M1070.8 1236.5V1232M1058.4 1232H1083.2M1144.75 1270.75V1268.25M1132.35 1268.25H1157.15"/><text class="yl" transform="translate(667.45,1262) rotate(-90)" textLength="143.6" lengthAdjust="spacingAndGlyphs">TNF-α mRNA</text><text class="yl" transform="translate(697.6,1261.75) rotate(-90)" textLength="213" lengthAdjust="spacingAndGlyphs">(Relative to Control)</text></g>
<g><text class="pl" x="1211.2" y="1124.6">C4</text><rect x="1321.25" y="1117.75" width="444" height="296" class="ax"/><text class="tk" x="1309.75" y="1421.95">0</text><text class="tk" x="1309.75" y="1372.62">1</text><text class="tk" x="1309.75" y="1323.28">2</text><text class="tk" x="1309.75" y="1273.95">3</text><text class="tk" x="1309.75" y="1224.62">4</text><text class="tk" x="1309.75" y="1175.28">5</text><text class="tk" x="1309.75" y="1125.95">6</text><rect x="1334.05" y="1364.5" width="48.4" height="49.25" fill="#fff" class="cb"/><text class="xl" x="1358.25" y="1444.95" textLength="47.2" lengthAdjust="spacingAndGlyphs">CON</text><rect x="1407.25" y="1186.25" width="50" height="227.5" fill="#000"/><text class="lt" x="1432.25" y="1144.5">a</text><text class="st" x="1432.25" y="1167">**</text><text class="xl" x="1432.25" y="1444.95" textLength="38.6" lengthAdjust="spacingAndGlyphs">LPS</text><rect x="1481.25" y="1203.75" width="50" height="210" fill="#ff0000"/><text class="lt" x="1506.25" y="1190">a</text><text class="xl" x="1506.25" y="1444.95" textLength="54.2" lengthAdjust="spacingAndGlyphs">LFVP</text><rect x="1555.25" y="1250" width="50" height="163.75" fill="#ff0000"/><text class="lt" x="1580.25" y="1237">c</text><text class="xl" x="1580.25" y="1444.95" textLength="56.2" lengthAdjust="spacingAndGlyphs">HFVP</text><rect x="1629.25" y="1230" width="50" height="183.75" fill="#0000bc"/><text class="lt" x="1654.25" y="1210">b</text><text class="xl" x="1654.25" y="1444.95" textLength="66.5" lengthAdjust="spacingAndGlyphs">LFFVP</text><rect x="1703.25" y="1255.75" width="50" height="158" fill="#0000bc"/><text class="lt" x="1728.25" y="1233.25">c</text><text class="xl" x="1728.25" y="1444.95" textLength="68.7" lengthAdjust="spacingAndGlyphs">HFFVP</text><path class="ln" d="M1313.25 1413.75H1321.25M1313.25 1364.42H1321.25M1757.25 1364.42H1765.25M1313.25 1315.08H1321.25M1757.25 1315.08H1765.25M1313.25 1265.75H1321.25M1757.25 1265.75H1765.25M1313.25 1216.42H1321.25M1757.25 1216.42H1765.25M1313.25 1167.08H1321.25M1757.25 1167.08H1765.25M1313.25 1117.75H1321.25M1358.25 1413.75V1421.75M1358.25 1117.75V1125.25M1432.25 1413.75V1421.75M1432.25 1117.75V1125.25M1506.25 1413.75V1421.75M1506.25 1117.75V1125.25M1580.25 1413.75V1421.75M1580.25 1117.75V1125.25M1654.25 1413.75V1421.75M1654.25 1117.75V1125.25M1728.25 1413.75V1421.75M1728.25 1117.75V1125.25M1358.25 1364.5V1352.75M1345.85 1352.75H1370.65M1432.25 1186.25V1166.25M1419.85 1166.25H1444.65M1506.25 1203.75V1193.25M1493.85 1193.25H1518.65M1580.25 1250V1241.25M1567.85 1241.25H1592.65M1654.25 1230V1221.25M1641.85 1221.25H1666.65M1728.25 1255.75V1242.75M1715.85 1242.75H1740.65"/><text class="yl" transform="translate(1232.45,1264.5) rotate(-90)" textLength="143.6" lengthAdjust="spacingAndGlyphs">TNF-α mRNA</text><text class="yl" transform="translate(1262.1,1264.25) rotate(-90)" textLength="213" lengthAdjust="spacingAndGlyphs">(Relative to Control)</text></g>
</svg></body></html>
